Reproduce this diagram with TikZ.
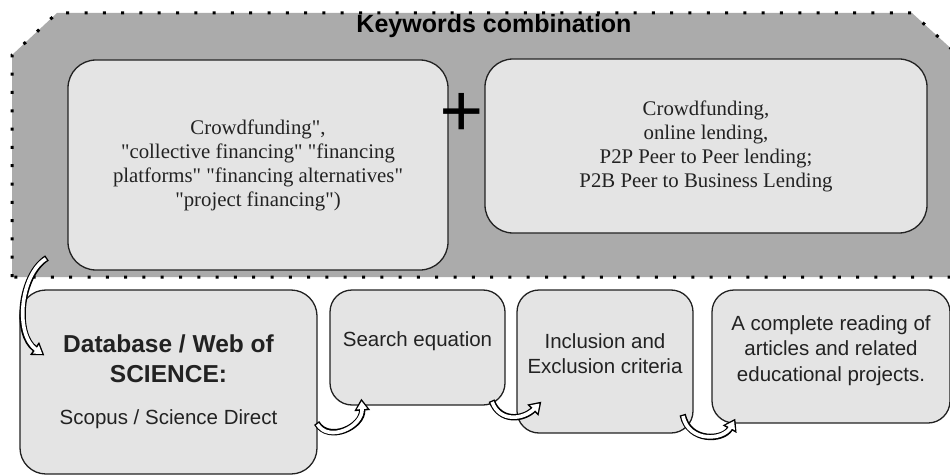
\documentclass[tikz,border=0pt]{standalone}
\usepackage{fontspec}
\setmainfont{Liberation Serif}[Ligatures=TeXOff]
\setsansfont{Liberation Sans}[Ligatures=TeXOff]
\usepackage{tikz}
\usetikzlibrary{arrows.meta,positioning}

\definecolor{areagray}{HTML}{ABABAB}
\definecolor{boxgray}{HTML}{E4E4E4}
\definecolor{inkgray}{HTML}{222222}

% hollow curved block arrow: black outline, white inside
\newcommand{\hollowarrow}[1]{%
  \draw[line width=6.4pt,-{Triangle[length=12pt,width=15pt]}] #1;
  \draw[line width=3.6pt,white,shorten <=1.4pt,shorten >=2.6pt,
        -{Triangle[length=7.8pt,width=10pt]}] #1;}

\begin{document}
\begin{tikzpicture}
  [x=1pt,y=-1pt,font=\sffamily,text=inkgray]
  \tikzstyle{kwbox}=[draw=inkgray,line width=1.3pt,fill=boxgray,rounded corners=28pt,
    align=center,font=\rmfamily\fontsize{20.8}{24}\selectfont]
  \tikzstyle{stepbox}=[draw=inkgray,line width=1.3pt,fill=boxgray,rounded corners=22pt,
    align=center,font=\sffamily\fontsize{20.5}{25.5}\selectfont,text depth=16pt]

  \useasboundingbox (0,0) rectangle (950,476);
  \clip (0,0) rectangle (950,476);

  % keywords area
  \fill[areagray] (12,277) -- (12,55) -- (57,13) -- (912,13) -- (956,53) -- (956,277) -- cycle;
  \draw[line width=3pt,dash pattern=on 3pt off 15.3pt]
    (12,277) -- (12,55) -- (57,13) -- (912,13) -- (956,53) -- (956,277) -- cycle;
  \coordinate (kwarea) at (12,277);
  \node[anchor=base,font=\sffamily\bfseries\fontsize{25}{30}\selectfont,text=black]
    (kwtitle) at (494,33) {Keywords combination};

  \node[kwbox,minimum width=380,minimum height=210] (kwone) at (258,165)
    {Crowdfunding",\\"collective financing" "financing\\platforms" "financing alternatives"\\"project financing")};
  \node[kwbox,minimum width=442,minimum height=174] (kwtwo) at (706,146)
    {Crowdfunding,\\online lending,\\P2P Peer to Peer lending;\\P2B Peer to Business Lending};
  \node[anchor=base,inner sep=0pt,text=black,font=\rmfamily\bfseries\fontsize{78}{78}\selectfont]
    (plus) at (462,138) {+};

  % steps
  \node[draw=inkgray,line width=1.3pt,fill=boxgray,rounded corners=26pt,align=center,
    minimum width=297,minimum height=184,font=\sffamily\bfseries\fontsize{24.5}{30}\selectfont]
    (db) at (168.5,382)
    {Database / Web of\\SCIENCE:\\[12pt]{\mdseries\fontsize{20.5}{25}\selectfont Scopus / Science Direct}};
  \node[stepbox,minimum width=175,minimum height=115] (search) at (417.5,347.5)
    {Search equation};
  \node[stepbox,minimum width=176,minimum height=143] (criteria) at (605,361.5)
    {Inclusion and\\Exclusion criteria};
  \node[stepbox,minimum width=238,minimum height=133] (reading) at (831,356.5)
    {A complete reading of\\articles and related\\educational projects.};

  \hollowarrow{([shift={(35,-19)}]kwarea) .. controls +(-27,17) and +(-30,-21) .. ([shift={(25,66)}]db.north west)}
  \hollowarrow{([shift={(-1,41)}]db.east) .. controls +(12,20) and +(2,28) .. ([shift={(32,-7)}]search.south west)}
  \hollowarrow{([shift={(-14,-5)}]search.south east) .. controls +(8,22) and +(-18,18) .. ([shift={(25,-32)}]criteria.south west)}
  \hollowarrow{([shift={(-11,-19)}]criteria.south east) .. controls +(6,28) and +(-12,22) .. ([shift={(24,-5)}]reading.south west)}
\end{tikzpicture}
\end{document}
